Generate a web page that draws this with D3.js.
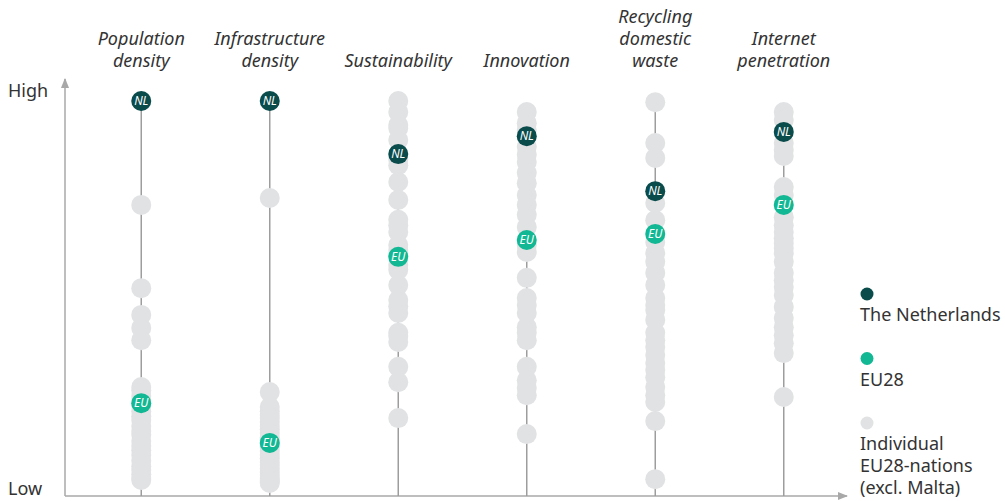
<!DOCTYPE html>
<html>
<head>
<meta charset="utf-8">
<script src="https://cdn.jsdelivr.net/npm/d3@7"></script>
<style>
    body { margin: 0; background: #fff; }
    text { font-family: "Noto Sans", sans-serif; fill: #333; }
</style>
</head>
<body>
<script>

// --------------------------------------------------
// Data (score 0 = low, 100 = high)
// --------------------------------------------------

var categories = [
    ['Population', 'density'],
    ['Infrastructure', 'density'],
    ['Sustainability'],
    ['Innovation'],
    ['Recycling', 'domestic', 'waste'],
    ['Internet', 'penetration']
];

var nlValues = [100, 100, 86.1, 90.8, 76.4, 91.9];
var euValues = [20.9, 10.5, 59.2, 63.6, 65.2, 72.8];

var popDensity = [72.8, 51.0, 44.0, 40.6, 37.4, 25.1, 24.3, 22.8, 21.5, 20.3, 18.8, 17.5, 16.5,
    14.9, 13.6, 12.6, 11.0, 9.7, 8.6, 7.3, 5.8, 4.4, 3.4, 2.3, 1.3, 0.8];
var infraDensity = [74.6, 23.8, 19.9, 18.8, 17.8, 17.0, 16.0, 14.9, 14.1, 13.1, 12.0, 11.2, 10.2,
    9.4, 8.4, 7.3, 6.5, 5.5, 4.7, 3.7, 2.9, 2.1, 1.3, 0.8, 0.3, 0];
var sustainability = [100, 97.1, 93.7, 92.9, 89.8, 84.6, 83.2, 78.8, 74.1, 68.9, 67.5, 65.7, 62.3,
    61.0, 57.1, 55.8, 51.8, 47.9, 46.3, 44.5, 39.3, 38.5, 36.9, 30.4, 26.4, 17.0];
var innovation = [97.1, 94.2, 92.4, 88.0, 85.9, 84.0, 81.2, 78.5, 75.4, 72.8, 70.2, 67.0, 62.3,
    60.5, 53.7, 48.4, 46.6, 44.5, 40.8, 39.3, 37.4, 30.4, 26.9, 24.9, 23.0, 12.8];
var recycling = [99.7, 89.0, 85.1, 73.3, 68.8, 63.1, 60.2, 57.9, 55.0, 51.8, 48.4, 46.6, 45.3,
    42.7, 39.3, 37.4, 35.6, 33.5, 31.4, 29.6, 27.7, 25.1, 23.0, 21.2, 16.2, 1.0];
var internet = [97.1, 95.0, 89.0, 87.2, 85.6, 77.5, 75.4, 69.6, 67.5, 65.7, 64.1, 62.8, 61.5,
    60.2, 57.9, 55.0, 53.1, 51.3, 49.2, 46.1, 43.2, 40.8, 38.7, 36.6, 34.0, 22.5];

var nations = [popDensity, infraDensity, sustainability, innovation, recycling, internet];

var legendItems = [
    { label: ['The Netherlands'], color: '#0a4b4b' },
    { label: ['EU28'], color: '#12b893' },
    { label: ['Individual', 'EU28-nations', '(excl. Malta)'], color: '#e1e2e4' }
];

var colors = { nl: '#0a4b4b', eu: '#12b893', nation: '#e1e2e4', line: '#9d9d9d', axis: '#a8a8a8' };

// --------------------------------------------------
// Chart
// --------------------------------------------------

var svg = d3.select('body').append('svg')
    .attr('width', 1005)
    .attr('height', 501);

var axisX = 65, axisY = 496, r = 10;

var x = d3.scaleBand()
    .domain(d3.range(categories.length))
    .range([77, 848]);

var y = d3.scaleLinear()
    .domain([0, 100])
    .range([483, 101]);

var cx = i => x(i) + x.bandwidth() / 2;

// axes with arrows
svg.append('defs').append('marker')
    .attr('id', 'arrow')
    .attr('viewBox', '0 0 10 10')
    .attr('refX', 9).attr('refY', 5)
    .attr('markerWidth', 7).attr('markerHeight', 7)
    .attr('orient', 'auto')
    .append('path')
    .attr('d', 'M0,1L10,5L0,9Z')
    .attr('fill', colors.axis);

svg.append('line')
    .attr('x1', axisX).attr('y1', axisY)
    .attr('x2', axisX).attr('y2', 79)
    .attr('stroke', colors.axis).attr('stroke-width', 1.5)
    .attr('marker-end', 'url(#arrow)');

svg.append('line')
    .attr('x1', axisX).attr('y1', axisY)
    .attr('x2', 847).attr('y2', axisY)
    .attr('stroke', colors.axis).attr('stroke-width', 1.5)
    .attr('marker-end', 'url(#arrow)');

svg.append('text').attr('x', 8).attr('y', 97).attr('font-size', 18).text('High');
svg.append('text').attr('x', 8).attr('y', 495).attr('font-size', 18).text('Low');

// column titles
categories.forEach((lines, i) => {
    var t = svg.append('text')
        .attr('x', cx(i))
        .attr('text-anchor', 'middle')
        .attr('font-size', 18)
        .attr('font-style', 'italic');
    lines.forEach((l, j) => {
        t.append('tspan')
            .attr('x', cx(i))
            .attr('y', 67 - (lines.length - 1 - j) * 22)
            .text(l);
    });
});

// columns
var cols = svg.selectAll('.col')
    .data(categories.map((c, i) => i))
    .enter().append('g')
    .attr('class', 'col');

cols.append('line')
    .attr('x1', cx).attr('x2', cx)
    .attr('y1', i => y(d3.max(nations[i].concat([nlValues[i], euValues[i]]))))
    .attr('y2', axisY)
    .attr('stroke', colors.line)
    .attr('stroke-width', 1.5);

cols.each(function (i) {
    d3.select(this).selectAll('.nation')
        .data(nations[i])
        .enter().append('circle')
        .attr('class', 'nation')
        .attr('cx', cx(i))
        .attr('cy', d => y(d))
        .attr('r', r)
        .attr('fill', colors.nation);
});

function marker(values, color, label) {
    var g = svg.selectAll('.m-' + label)
        .data(values)
        .enter().append('g')
        .attr('transform', (d, i) => 'translate(' + cx(i) + ',' + y(d) + ')');
    g.append('circle').attr('r', r).attr('fill', color);
    g.append('text')
        .attr('text-anchor', 'middle')
        .attr('dy', '0.36em')
        .attr('font-size', 12)
        .attr('font-style', 'italic')
        .style('fill', '#fff')
        .text(label);
}

marker(euValues, colors.eu, 'EU');
marker(nlValues, colors.nl, 'NL');

// legend
var legend = svg.selectAll('.legend')
    .data(legendItems)
    .enter().append('g')
    .attr('class', 'legend')
    .attr('transform', (d, i) => 'translate(860,' + (294 + i * 64.5) + ')');

legend.append('circle')
    .attr('cx', 7).attr('cy', 0).attr('r', 6.5)
    .attr('fill', d => d.color);

legend.append('text')
    .attr('font-size', 18)
    .selectAll('tspan')
    .data(d => d.label)
    .enter().append('tspan')
    .attr('x', 0)
    .attr('y', (d, j) => 27 + j * 22)
    .text(d => d);

</script>
</body>
</html>
